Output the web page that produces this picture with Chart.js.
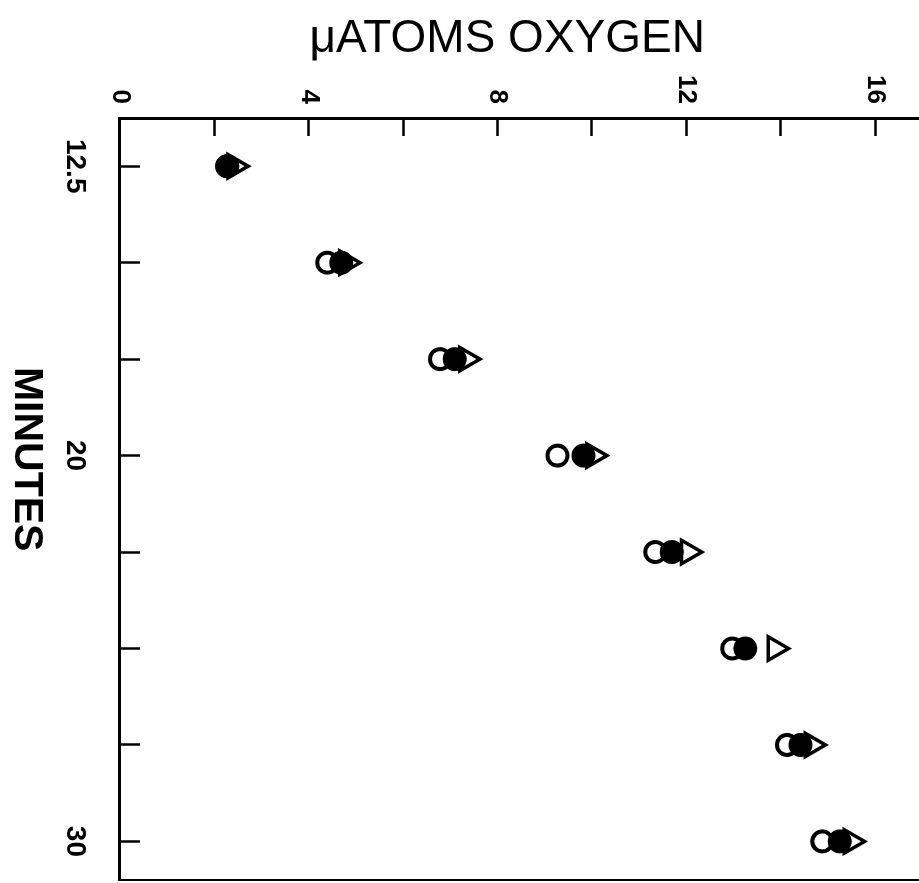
<!DOCTYPE html>
<html>
<head>
<meta charset="utf-8">
<script src="https://cdn.jsdelivr.net/npm/chart.js@4/dist/chart.umd.min.js"></script>
<style>
html,body{margin:0;padding:0;width:919px;height:883px;overflow:hidden;background:#fff;}
#wrap{position:absolute;left:0;top:0;width:900px;height:940px;transform-origin:0 0;transform:translate(940px,0) rotate(90deg);}
canvas{display:block;}
</style>
</head>
<body>
<div id="wrap"><canvas id="c" width="900" height="940"></canvas></div>
<script>
// Data (the figure is drawn in its original orientation, then the page shows it turned 90° clockwise)
const minutes = [12.5, 15, 17.5, 20, 22.5, 25, 27.5, 30];
const openCircle   = [2.27, 4.39, 6.78, 9.27, 11.34, 12.97, 14.13, 14.88];
const filledCircle = [2.27, 4.69, 7.09, 9.82, 11.69, 13.25, 14.42, 15.25];
const openTriangle = [2.43, 4.80, 7.34, 10.03, 12.04, 13.88, 14.66, 15.49];
const minuteTickLabels = [12.5, 20, 30];
const oxygenTickLabels = [0, 4, 8, 12, 16];
const xTitle = 'MINUTES';
const yTitle = 'μATOMS OXYGEN';

const pts = arr => minutes.map((m, i) => ({x: m, y: arr[i]}));
const FONT = "'Liberation Sans', Arial, Helvetica, sans-serif";

function fixBox(size, horiz) {
  return function (scale) {
    if (horiz) scale.height = size; else scale.width = size;
    scale.paddingTop = 0; scale.paddingBottom = 0;
    scale.paddingLeft = 0; scale.paddingRight = 0;
  };
}

new Chart(document.getElementById('c'), {
  type: 'scatter',
  data: {
    datasets: [
      {
        label: 'triangle',
        data: pts(openTriangle),
        pointStyle: 'triangle',
        pointRadius: 13.5,
        pointBorderWidth: 3.5,
        borderColor: '#000',
        backgroundColor: 'rgba(255,255,255,0)',
        pointBackgroundColor: 'rgba(255,255,255,0)',
        pointBorderColor: '#000'
      },
      {
        label: 'filled',
        data: pts(filledCircle),
        pointStyle: 'circle',
        pointRadius: 10,
        pointBorderWidth: 4,
        borderColor: '#000',
        backgroundColor: '#000',
        pointBackgroundColor: '#000',
        pointBorderColor: '#000'
      },
      {
        label: 'open',
        data: pts(openCircle),
        pointStyle: 'circle',
        pointRadius: 10,
        pointBorderWidth: 4,
        borderColor: '#000',
        backgroundColor: '#fff',
        pointBackgroundColor: '#fff',
        pointBorderColor: '#000'
      }
    ]
  },
  options: {
    responsive: false,
    animation: false,
    devicePixelRatio: 1,
    events: [],
    layout: {padding: {top: 20, right: 20, bottom: 0, left: 0}},
    plugins: {legend: {display: false}, tooltip: {enabled: false}},
    scales: {
      x: {
        type: 'linear',
        position: 'bottom',
        min: 11.25,
        max: 31,
        afterFit: fixBox(120, true),
        border: {display: true, color: '#000', width: 3},
        grid: {drawOnChartArea: false, drawTicks: true, tickLength: -20, tickWidth: 2.5, color: '#000'},
        ticks: {
          stepSize: 2.5,
          includeBounds: false,
          autoSkip: false,
          maxRotation: 0,
          minRotation: 0,
          padding: 48,
          color: '#000',
          font: {family: FONT, size: 28, weight: 'bold'},
          callback: v => minuteTickLabels.includes(v) ? String(v) : ''
        },
        title: {display: true, text: xTitle + '       ', color: '#000', font: {family: FONT, size: 41, weight: 'bold'}, padding: {top: 0, bottom: 2}}
      },
      y: {
        type: 'linear',
        position: 'left',
        min: 0,
        max: 16.95,
        afterFit: fixBox(118, false),
        border: {display: true, color: '#000', width: 3},
        grid: {drawOnChartArea: false, drawTicks: true, tickLength: -18, tickWidth: 2.5, color: '#000'},
        ticks: {
          stepSize: 2,
          includeBounds: false,
          autoSkip: false,
          padding: 32,
          color: '#000',
          font: {family: FONT, size: 26, weight: 'bold'},
          callback: v => oxygenTickLabels.includes(v) ? String(v) : ''
        },
        title: {display: true, text: yTitle + '  ', color: '#000', font: {family: FONT, size: 46}, padding: {top: 12, bottom: 0}}
      },
      edge: {
        type: 'linear',
        position: 'right',
        min: 0,
        max: 17,
        afterFit: fixBox(0, false),
        border: {display: true, color: '#000', width: 2},
        grid: {drawOnChartArea: false, drawTicks: false},
        ticks: {display: false}
      }
    }
  }
});
</script>
</body>
</html>
